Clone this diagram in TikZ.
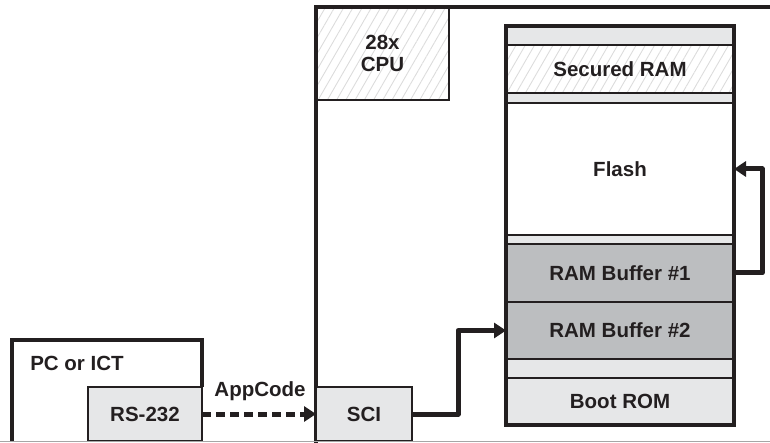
\documentclass[tikz,border=0pt]{standalone}
\usepackage{fontspec}
\setmainfont{Liberation Sans}
\usetikzlibrary{patterns.meta,arrows.meta}
\definecolor{lgray}{HTML}{E6E7E8}
\definecolor{dgray}{HTML}{BCBEC0}
\definecolor{hatch}{HTML}{DCDCDC}
\definecolor{ink}{HTML}{231F20}
\tikzset{
  x=1pt,y=-1pt,
  lbl/.style={font=\fontsize{20.5}{23}\selectfont\bfseries, text=ink, align=center},
  memrow/.style={draw=ink, line width=1.6pt, minimum width=228, inner sep=0pt, outer sep=0pt, anchor=north west, lbl},
  hatched/.style={pattern={Lines[angle=60,distance=8pt,line width=0.9pt]}, pattern color=hatch},
  thickarrow/.style={draw=ink, line width=5pt, -{Triangle[length=12pt,width=15pt]}},
  boxline/.style={draw=ink, line width=3.4pt},
  smallbox/.style={draw=ink, line width=2.4pt, fill=lgray, minimum height=54, inner sep=0pt, outer sep=0pt, anchor=north west, lbl},
}
\begin{document}
\begin{tikzpicture}
\useasboundingbox (0,0) rectangle (770,443);
% device frame
\coordinate (devbl) at (316,441);
\coordinate (devtl) at (316,7);
\coordinate (devtr) at (771,7);
% CPU
\node[draw=ink, line width=2.4pt, hatched, minimum width=133, minimum height=93, inner sep=0pt, outer sep=0pt, anchor=north west, lbl] (cpu) at (316,7) {28x\\[-1pt]CPU};
\draw[boxline, line cap=rect] (devbl) -- (devtl) -- (devtr);
% memory map
\node[memrow, fill=lgray, minimum height=19] (s1) at (506,26) {};
\node[memrow, hatched, minimum height=48] (sram) at (506,45) {Secured RAM};
\node[memrow, fill=lgray, minimum height=10] (s2) at (506,93) {};
\node[memrow, fill=white, minimum height=132] (flash) at (506,103) {Flash};
\node[memrow, fill=lgray, minimum height=9] (s3) at (506,235) {};
\node[memrow, fill=dgray, minimum height=58] (rb1) at (506,244) {RAM Buffer \#1};
\node[memrow, fill=dgray, minimum height=57] (rb2) at (506,302) {RAM Buffer \#2};
\node[memrow, fill=lgray, minimum height=19] (s4) at (506,359) {};
\node[memrow, fill=lgray, minimum height=47] (boot) at (506,378) {Boot ROM};
\draw[boxline] (s1.north west) rectangle (boot.south east);
% PC or ICT
\coordinate (pcbl) at (12,441);
\coordinate (pctl) at (12,340);
\coordinate (pctr) at (202,340);
\node[smallbox, minimum width=114] (rs) at (88,387) {RS-232};
\draw[boxline, line join=miter] (pcbl) -- (pctl) -- (pctr) -- (rs.north east);
\node[lbl, anchor=center] (pclbl) at (77,363) {PC or ICT};
% SCI
\node[smallbox, minimum width=96] (sci) at (316,387) {SCI};
\draw[boxline] (devtl) -- (sci.north west);
% AppCode
\node[lbl] (app) at (260,391) {AppCode};
% connectors
\draw[thickarrow, dash pattern=on 9pt off 5pt] (rs.east) -- (sci.west);
\draw[thickarrow, line join=round] (sci.east) -- (458,414) -- (458,330.5) -- (rb2.west);
\draw[thickarrow, line join=round] (rb1.east) -- (762,273) -- (762,169) -- (flash.east);
% bottom edge
\coordinate (bl) at (0,441.5);
\coordinate (br) at (770,441.5);
\draw[gray!70, line width=1.5pt] (bl) -- (br);
\end{tikzpicture}
\end{document}
